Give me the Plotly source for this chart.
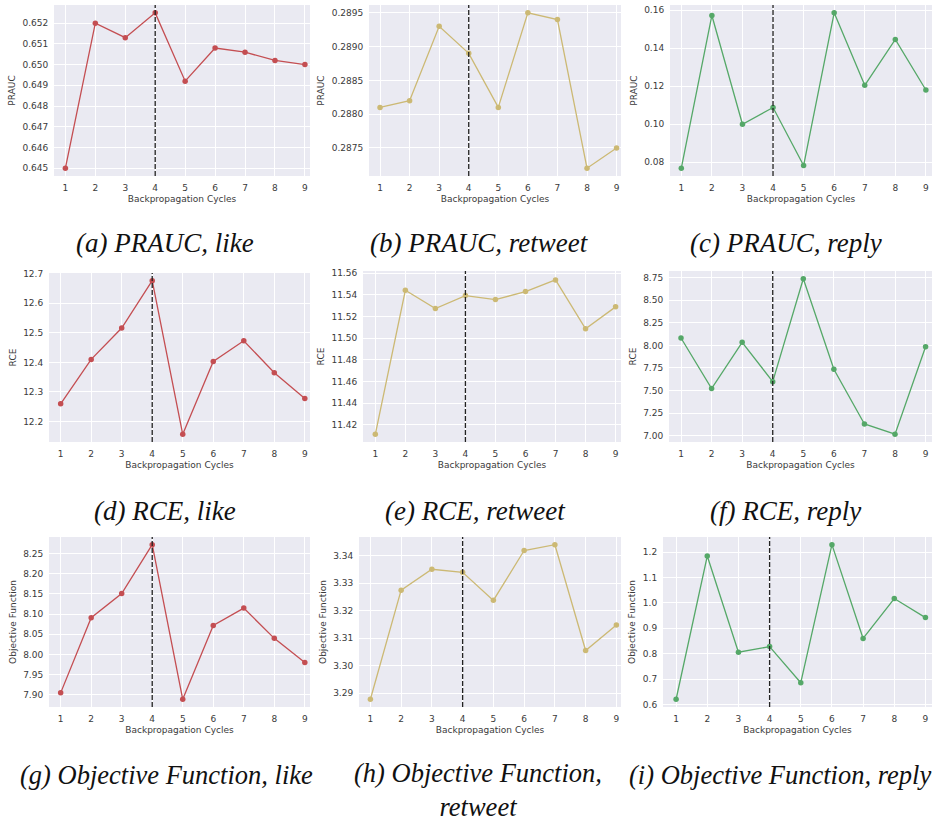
import plotly.graph_objects as go

cycles = [1, 2, 3, 4, 5, 6, 7, 8, 9]

prauc_like = [0.6450, 0.6520, 0.6513, 0.6525, 0.6492, 0.6508, 0.6506, 0.6502, 0.6500]
prauc_retweet = [0.2881, 0.2882, 0.2893, 0.2889, 0.2881, 0.2895, 0.2894, 0.2872, 0.2875]
prauc_reply = [0.0769, 0.1572, 0.1000, 0.1088, 0.0783, 0.1586, 0.1205, 0.1446, 0.1180]
rce_like = [12.260, 12.410, 12.516, 12.676, 12.157, 12.403, 12.473, 12.365, 12.278]
rce_retweet = [11.4114, 11.5443, 11.5275, 11.5394, 11.5357, 11.5431, 11.5539, 11.5087, 11.5290]
rce_reply = [8.082, 7.521, 8.034, 7.598, 8.739, 7.735, 7.129, 7.015, 7.986]
obj_like = [7.905, 8.091, 8.151, 8.272, 7.889, 8.072, 8.115, 8.040, 7.980]
obj_retweet = [3.2878, 3.3274, 3.3350, 3.3339, 3.3237, 3.3418, 3.3439, 3.3055, 3.3148]
obj_reply = [0.621, 1.184, 0.806, 0.828, 0.686, 1.229, 0.860, 1.017, 0.942]

best_cycle = 4

series = [prauc_like, prauc_retweet, prauc_reply,
          rce_like, rce_retweet, rce_reply,
          obj_like, obj_retweet, obj_reply]
y_titles = ["PRAUC"] * 3 + ["RCE"] * 3 + ["Objective Function"] * 3
captions = ["(a) PRAUC, like", "(b) PRAUC, retweet", "(c) PRAUC, reply",
            "(d) RCE, like", "(e) RCE, retweet", "(f) RCE, reply",
            "(g) Objective Function, like", "(h) Objective Function,<br>retweet",
            "(i) Objective Function, reply"]
task_colors = ["#C44E52", "#CCB974", "#55A868"]

# layout (pixels) -- styling only
W, H = 932, 823
boxes = [  # x0, x1, y0(top), y1(bottom)
    (54, 310, 5, 176), (369, 621, 5, 176), (670, 932, 5, 176),
    (49, 310, 273, 442), (363, 621, 271, 442), (669, 932, 271, 442),
    (49, 310, 537, 707), (359, 621, 537, 707), (663, 932, 537, 707),
]
xranges = [(0.62, 9.17), (0.627, 9.15), (0.63, 9.2),
           (0.618, 9.17), (0.59, 9.18), (0.607, 9.21),
           (0.618, 9.17), (0.63, 9.15), (0.58, 9.21)]
yranges = [(0.64462, 0.65288), (0.287085, 0.289615), (0.0728, 0.1627),
           (12.131, 12.702), (11.4043, 11.5621), (6.929, 8.825),
           (7.870, 8.291), (3.2850, 3.3467), (0.5905, 1.259)]
dticks = [0.001, 0.0005, 0.02, 0.1, 0.02, 0.25, 0.05, 0.01, 0.1]
tformats = [".3f", ".4f", ".2f", ".1f", ".2f", ".2f", ".2f", ".2f", ".1f"]
cap_pos = [(165, 243, "center", 27), (479, 243, "center", 27), (786, 243, "center", 27),
           (165, 511, "center", 27), (475, 511, "center", 27), (785, 511, "center", 27),
           (18, 775, "left", 26.5), (478, 790, "center", 26.5), (627, 775, "left", 26.5)]

TXT = "#3a3a3a"
fig = go.Figure()
layout = dict(width=W, height=H, margin=dict(l=0, r=0, t=0, b=0),
              paper_bgcolor="white", plot_bgcolor="#EAEAF2", showlegend=False,
              font=dict(family="DejaVu Sans", size=9, color=TXT))
shapes = []
annotations = []

for i, ys in enumerate(series):
    n = i + 1
    sx = "" if n == 1 else str(n)
    x0, x1, t, b = boxes[i]
    color = task_colors[i % 3]
    fig.add_trace(go.Scatter(x=cycles, y=ys, mode="lines+markers",
                             line=dict(color=color, width=1.3),
                             marker=dict(color=color, size=5.5),
                             xaxis="x" + sx, yaxis="y" + sx))
    layout["xaxis" + sx] = dict(
        domain=[x0 / W, x1 / W], anchor="y" + sx, range=list(xranges[i]),
        tickmode="linear", tick0=1, dtick=1, showgrid=True, gridcolor="white",
        gridwidth=1, zeroline=False, showline=False, ticks="outside", ticklen=3,
        tickcolor="rgba(0,0,0,0)", tickfont=dict(size=9, color=TXT),
        title=dict(text="Backpropagation Cycles", standoff=3,
                   font=dict(size=9, color=TXT)),
        automargin=False)
    layout["yaxis" + sx] = dict(
        domain=[1 - b / H, 1 - t / H], anchor="x" + sx, range=list(yranges[i]),
        dtick=dticks[i], tick0=0, tickformat=tformats[i], showgrid=True,
        gridcolor="white", gridwidth=1, zeroline=False, showline=False,
        ticks="outside", ticklen=3, tickcolor="rgba(0,0,0,0)",
        tickfont=dict(size=9, color=TXT),
        title=dict(text=y_titles[i], standoff=5, font=dict(size=9, color=TXT)),
        automargin=False)
    shapes.append(dict(type="line", xref="x" + sx, yref="y" + sx + " domain",
                       x0=best_cycle, x1=best_cycle, y0=0, y1=1,
                       line=dict(color="#222222", width=1.3, dash="5px,2px")))
    cx, cy, anc, fs = cap_pos[i]
    annotations.append(dict(text=captions[i], xref="paper", yref="paper",
                            x=cx / W, y=1 - cy / H, xanchor=anc, yanchor="middle",
                            showarrow=False,
                            font=dict(family="Liberation Serif", size=fs,
                                      color="#111111", style="italic")))

layout["shapes"] = shapes
layout["annotations"] = annotations
fig.update_layout(**layout)
fig.write_html("out.html", config={"displayModeBar": False},
               post_script="document.body.style.margin='0';"
                           "document.body.style.overflow='hidden';")
